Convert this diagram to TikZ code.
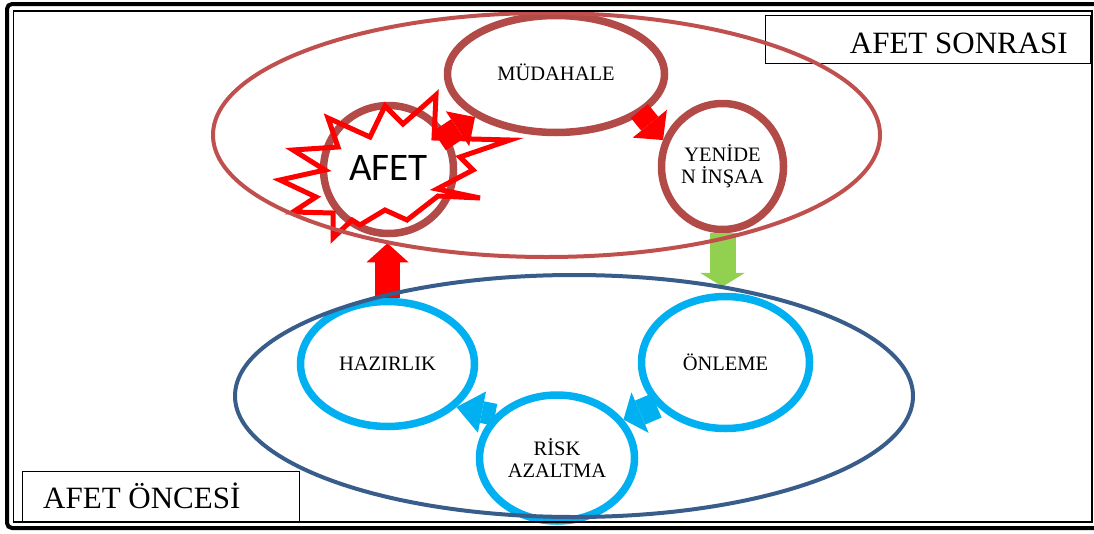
\documentclass[tikz,border=0pt]{standalone}
\usepackage{fontspec}
\setmainfont{Liberation Serif}
\newfontfamily\burstfont{Carlito}
\usetikzlibrary{shapes.geometric,arrows.meta,shadows}
\definecolor{ringbrown}{RGB}{178,74,72}
\definecolor{zonered}{RGB}{192,80,77}
\definecolor{zoneblue}{RGB}{56,93,138}
\definecolor{ringcyan}{RGB}{0,176,240}
\definecolor{arrowgreen}{RGB}{146,208,80}
\begin{document}
\begin{tikzpicture}[x=1pt,y=-1pt,
  phase/.style={ellipse, fill=white, line width=7.5pt, inner sep=0pt,
    font=\fontsize{20.5}{22}\selectfont, align=center,
    drop shadow={shadow xshift=2pt, shadow yshift=-3pt, opacity=0.18}},
  postphase/.style={phase, draw=ringbrown},
  prephase/.style={phase, draw=ringcyan},
  blockarrow/.style n args={3}{line width=#1,
    -{Triangle[width=#2, length=#3, line width=0pt]}},
  zone/.style={line width=4pt},
  tagbox/.style={draw, line width=1pt, anchor=north west, inner sep=0pt},
  tagtext/.style={inner sep=0pt, font=\fontsize{31}{33}\selectfont},
]
\useasboundingbox (0,0) rectangle (1094,533);

% phase rings
\node[postphase, minimum width=217pt, minimum height=117pt] (mud) at (556,74) {\raisebox{4pt}{MÜDAHALE}};
\node[postphase, minimum width=122pt, minimum height=126pt] (yen) at (722.5,166.5) {YENİDE\\N İNŞAA};
\node[postphase, minimum width=130pt, minimum height=128pt,
      font=\burstfont\fontsize{39}{40}\selectfont] (afet) at (388.5,169.5) {\raisebox{3pt}{AFET}};
\node[prephase, minimum width=174pt, minimum height=125pt] (haz) at (387.5,364) {HAZIRLIK};
\node[prephase, minimum width=168pt, minimum height=132pt] (onl) at (725.5,362.5) {ÖNLEME};
\node[prephase, minimum width=155pt, minimum height=126pt] (risk) at (557,458) {RİSK\\AZALTMA};

% explosion outline around the disaster ring
\draw[red, line width=5pt, line join=miter]
  (328,118) -- (370,137) -- (385,106) -- (403,124) -- (436,95) -- (434,138)
  -- (510,140) -- (460,157) -- (473,170) -- (437,189) -- (480,198) -- (438,196)
  -- (407,220) -- (385,210) -- (360,225) -- (352,220) -- (333,238) -- (333,213)
  -- (293,212) -- (316,197) -- (280,180) -- (325,170) -- (293,150) -- (338,147)
  -- cycle;

% cycle arrows
\draw[red, blockarrow={23pt}{42pt}{21pt}, shorten <=-10pt] (afet.30) -- (mud.208);
\draw[red, blockarrow={22pt}{44pt}{21pt}, shorten <=-4pt] (mud.-25) -- (yen.156);
\draw[arrowgreen, blockarrow={26pt}{45pt}{14pt}, shorten >=6pt] (yen.south) -- (yen.south |- onl.north);
\draw[ringcyan, blockarrow={26pt}{44pt}{18pt}] (onl.212) -- (risk.30);
\draw[ringcyan, blockarrow={22pt}{42pt}{26pt}] (risk.145) -- (haz.-32);
\draw[red, blockarrow={25pt}{42pt}{19pt}, shorten >=6pt] (haz.north) -- (haz.north |- afet.south);

% phase labels
\node[tagbox, minimum width=325pt, minimum height=48pt] (sonbox) at (765,15) {};
\node[tagtext, anchor=base east] (sontxt) at (1068,53) {AFET SONRASI};
\node[tagbox, minimum width=277pt, minimum height=51pt] (oncbox) at (22,471) {};
\node[tagtext, anchor=base west] (onctxt) at (43,508) {AFET ÖNCESİ};

% grouping ellipses
\draw[zonered, zone] (546.5,135) ellipse [x radius=333.5, y radius=122];
\draw[zoneblue, zone] (574,396) ellipse [x radius=339, y radius=121];

% double frame
\draw[line width=4pt, rounded corners=5pt] (7,4) rectangle (1100,528);
\draw[line width=1.6pt] (13.5,11) rectangle (1092,522);
\end{tikzpicture}
\end{document}
